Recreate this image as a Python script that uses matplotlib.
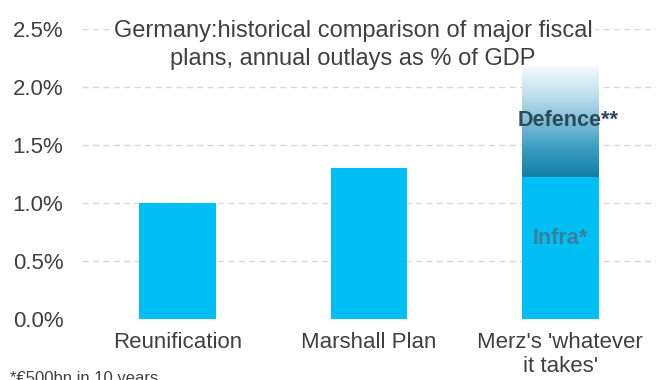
import matplotlib
matplotlib.use("Agg")
import matplotlib.pyplot as plt
import numpy as np
from matplotlib.colors import LinearSegmentedColormap

plt.rcParams['font.family'] = ['Liberation Sans', 'DejaVu Sans']

categories = ["Reunification", "Marshall Plan", "Merz's 'whatever\nit takes'"]
base_values = [1.0, 1.3, 1.22]        # % of GDP (Merz: infrastructure part)
defence_value = 0.94                  # Merz defence part on top of infra
yticks = [0.0, 0.5, 1.0, 1.5, 2.0, 2.5]
ytick_labels = ["0.0%", "0.5%", "1.0%", "1.5%", "2.0%", "2.5%"]
title = "Germany:historical comparison of major fiscal\nplans, annual outlays as % of GDP"
footnote = "*€500bn in 10 years"

bar_color = "#00BFF5"
text_color = "#404040"

fig = plt.figure(figsize=(6.56, 3.80), dpi=100)
ax = fig.add_axes([0.125, 0.1605, 0.875, 0.7632])

x = np.arange(len(categories))
width = 0.4
ax.bar(x, base_values, width=width, color=bar_color, zorder=2)

# defence gradient segment
cmap = LinearSegmentedColormap.from_list(
    "def", ["#137fa7", "#3a9bc0", "#7dbdd6", "#bfe0ee", "#f2f9fc"])
grad = np.linspace(0, 1, 256).reshape(-1, 1)
x2 = x[2]
bottom = base_values[2]
ax.imshow(grad, cmap=cmap, aspect='auto', origin='lower',
          extent=[x2 - width / 2, x2 + width / 2, bottom, bottom + defence_value], zorder=2)

ax.set_xlim(-0.5, 2.5)
ax.set_ylim(0, 2.5)
ax.set_yticks(yticks)
ax.set_yticklabels(ytick_labels)
ax.set_xticks(x)
ax.set_xticklabels(categories)
ax.tick_params(axis='both', length=0, labelsize=16, colors=text_color)
ax.tick_params(axis='y', pad=13.5)
ax.tick_params(axis='x', pad=9)
for s in ax.spines.values():
    s.set_visible(False)

for yv in yticks[1:]:
    ax.axhline(yv, color="#d9d9d9", lw=1.0, ls=(0, (4.5, 3)), zorder=1)

ax.text(x2 + 0.04, bottom + defence_value * 0.52, "Defence**", ha='center', va='center',
        fontsize=15.5, fontweight='bold', color="#2c4a58", zorder=3)
ax.text(x2, bottom * 0.57, "Infra*", ha='center', va='center',
        fontsize=15.5, fontweight='bold', color="#3b7f9c", zorder=3)

ax.text(353 / 656, 1 - 45 / 380, title, transform=fig.transFigure,
        ha='center', va='center', fontsize=17, color=text_color, linespacing=1.4,
        bbox=dict(facecolor='white', edgecolor='none', pad=2), zorder=1.5, clip_on=False)
fig.text(10 / 656, 1 - 371 / 380, footnote, ha='left', va='top', fontsize=12, color=text_color)

fig.savefig("out.png", dpi=100)
